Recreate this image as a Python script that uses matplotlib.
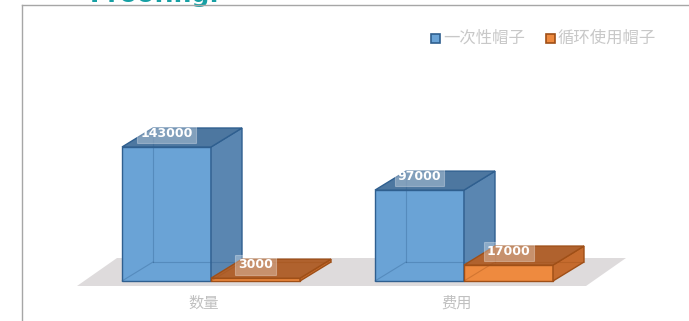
import matplotlib
matplotlib.use("Agg")
import matplotlib.pyplot as plt
from matplotlib.patches import Polygon, Rectangle
from matplotlib.lines import Line2D

plt.rcParams['font.family'] = ['Noto Sans CJK SC', 'DejaVu Sans']

categories = ["数量", "费用"]
series_names = ["一次性帽子", "循环使用帽子"]
disposable = [143000, 97000]
reusable = [3000, 17000]

W, H = 689, 321
fig = plt.figure(figsize=(W / 100, H / 100), dpi=100)
ax = fig.add_axes([0, 0, 1, 1])
ax.set_axis_off()

# scale: group spacing 253 px, 0.000937 px per unit value
px_x = 253.0
px_y = 0.000937
x0_px, y0_px = 211.0, 40.0
ax.set_xlim(-x0_px / px_x, (W - x0_px) / px_x)
ax.set_ylim(-y0_px / px_y, (H - y0_px) / px_y)

bw = 89 / px_x          # bar width
ddx = 31 / px_x         # depth offset x
ddy = 19 / px_y         # depth offset y

# floor
fl = Polygon([(-134 / px_x, -5 / px_y), (375 / px_x, -5 / px_y),
              (415 / px_x, 23 / px_y), (-94 / px_x, 23 / px_y)],
             closed=True, facecolor="#dedbdc", edgecolor="none", zorder=1)
ax.add_patch(fl)

styles = [
    dict(front="#6aa3d6", side="#5a86b1", top="#4d77a0", edge="#2f5f8f"),
    dict(front="#ee8a3f", side="#c56b2e", top="#b0622e", edge="#9f4f17"),
]

def box(x, h, st, z):
    front = Polygon([(x, 0), (x + bw, 0), (x + bw, h), (x, h)], closed=True,
                    facecolor=st["front"], edgecolor=st["edge"], lw=1.0, zorder=z)
    side = Polygon([(x + bw, 0), (x + bw + ddx, ddy), (x + bw + ddx, h + ddy), (x + bw, h)], closed=True,
                   facecolor=st["side"], edgecolor=st["edge"], lw=1.0, zorder=z)
    top = Polygon([(x, h), (x + bw, h), (x + bw + ddx, h + ddy), (x + ddx, h + ddy)], closed=True,
                  facecolor=st["top"], edgecolor=st["edge"], lw=1.0, zorder=z)
    for p in (front, side, top):
        ax.add_patch(p)
    # hidden back edges seen through the glassy faces
    kw = dict(color=st["edge"], lw=0.8, alpha=0.35, zorder=z + 0.1)
    ax.add_line(Line2D([x + ddx, x + ddx], [ddy, h + ddy], **kw))
    ax.add_line(Line2D([x + ddx, x + bw + ddx], [ddy, ddy], **kw))
    ax.add_line(Line2D([x, x + ddx], [0, ddy], **kw))

def label(xc, h, v, z):
    ax.text(xc, h + ddy * 0.7, f"{v}", ha="center", va="center", color="white",
            fontsize=9, fontweight="bold", family="DejaVu Sans", zorder=z + 0.5,
            bbox=dict(boxstyle="square,pad=0.25", facecolor="white", alpha=0.3,
                      edgecolor="white", lw=0.8))

for i, cat in enumerate(categories):
    z = 2 + i * 2
    box(i - bw, disposable[i], styles[0], z)
    box(i, reusable[i], styles[1], z + 1)
    label(i - bw / 2, disposable[i], disposable[i], z + 1)
    label(i + bw / 2, reusable[i], reusable[i], z + 1)
    ax.annotate(cat, (i - 0.03, 0), xytext=(0, -16), textcoords="offset points",
                ha="center", va="center", fontsize=11, color="#c0c0c0")

# legend
def leg(xpx, color, edge, text):
    fig.patches.append(Rectangle((xpx / W, 1 - 43 / H), 9 / W, 9 / H, transform=fig.transFigure,
                                 facecolor=color, edgecolor=edge, lw=1.2, figure=fig))
    fig.text((xpx + 12) / W, 1 - 38 / H, text, ha="left", va="center", fontsize=11.8,
             color="#c8c8c8")

leg(431, styles[0]["front"], "#2f5f8f", series_names[0])
leg(546, styles[1]["front"], "#9f4f17", series_names[1])

# frame
fig.lines.append(Line2D([22 / W, 22 / W], [0, 1 - 5 / H], transform=fig.transFigure, color="#a6a6a6", lw=1))
fig.lines.append(Line2D([22 / W, 1], [1 - 5 / H, 1 - 5 / H], transform=fig.transFigure, color="#a6a6a6", lw=1))

# clipped heading at the top (only its lower edge shows, as in the source)
fig.text(90 / W, 1 - 1.8 / H, "Proofing.", ha="left", va="baseline", fontsize=18,
         fontweight="bold", color="#17a0a4", family="DejaVu Sans", zorder=0)

fig.savefig("out.png", dpi=100)
